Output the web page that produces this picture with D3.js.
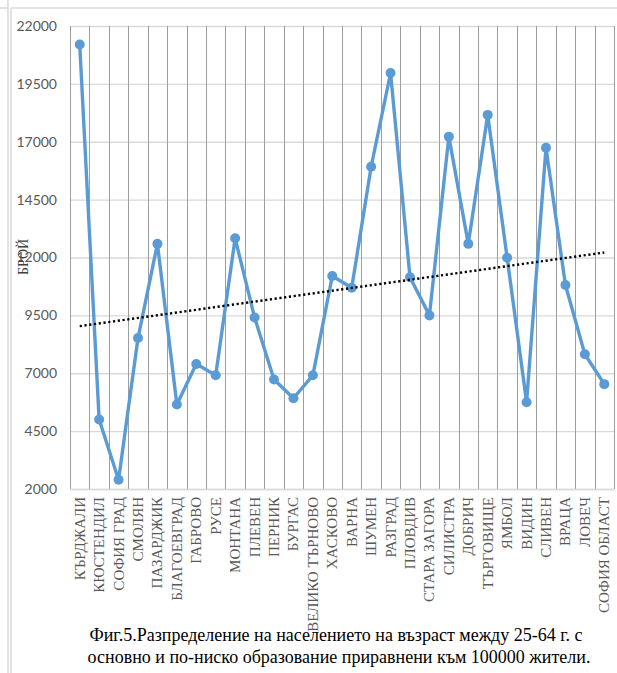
<!DOCTYPE html>
<html><head><meta charset="utf-8">
<script src="https://cdn.jsdelivr.net/npm/d3@7"></script>
<style>
html,body{margin:0;padding:0;background:#fff;}
svg{display:block;}
</style>
</head><body>
<svg id="c" width="617" height="673"></svg>
<script>
const categories = ["КЪРДЖАЛИ","КЮСТЕНДИЛ","СОФИЯ ГРАД","СМОЛЯН","ПАЗАРДЖИК","БЛАГОЕВГРАД","ГАБРОВО","РУСЕ","МОНТАНА","ПЛЕВЕН","ПЕРНИК","БУРГАС","ВЕЛИКО ТЪРНОВО","ХАСКОВО","ВАРНА","ШУМЕН","РАЗГРАД","ПЛОВДИВ","СТАРА ЗАГОРА","СИЛИСТРА","ДОБРИЧ","ТЪРГОВИЩЕ","ЯМБОЛ","ВИДИН","СЛИВЕН","ВРАЦА","ЛОВЕЧ","СОФИЯ ОБЛАСТ"];
const values = [21200,5000,2400,8520,12590,5650,7400,6910,12830,9410,6730,5920,6910,11200,10690,15920,19970,11150,9500,17220,12590,18160,11990,5750,16740,10810,7820,6530];
const yTicks = [2000,4500,7000,9500,12000,14500,17000,19500,22000];
const yLabel = "БРОЙ";
const captionLines = ["Фиг.5.Разпределение на населението на възраст между 25-64 г. с","основно и по-ниско образование приравнени към 100000 жители."];

const svg = d3.select("#c");
const L = 70, R = 614, T = 26, B = 489;

// frame
const frame = svg.append("g").attr("stroke","#d9d9d9").attr("stroke-width",1.5).attr("fill","none");
frame.append("line").attr("x1",8).attr("x2",8).attr("y1",0).attr("y2",673);
frame.append("line").attr("x1",11).attr("x2",11).attr("y1",8).attr("y2",673);
frame.append("line").attr("x1",0).attr("x2",8).attr("y1",8).attr("y2",8);
frame.append("line").attr("x1",11).attr("x2",617).attr("y1",8).attr("y2",8);

const x = d3.scaleBand().domain(categories).range([L,R]).padding(0);
const y = d3.scaleLinear().domain([2000,22000]).range([B,T]);

// horizontal gridlines + y labels
const yAxis = d3.axisLeft(y).tickValues(yTicks).tickSize(-(R-L)).tickPadding(13).tickFormat(d3.format("d"));
const gy = svg.append("g").attr("transform",`translate(${L},0)`).call(yAxis);
gy.select(".domain").remove();
gy.selectAll(".tick line").attr("stroke","#d9d9d9").attr("stroke-width",1.3);
gy.selectAll(".tick text").attr("fill","#595959").style("font-family","Lato, 'Open Sans', sans-serif").style("font-size","14px");

// vertical gridlines between categories
const vx = categories.map(c => x(c)).concat([x.range()[1]]);
svg.append("g").selectAll("line").data(vx).join("line")
  .attr("x1",d=>Math.round(d)+0.5).attr("x2",d=>Math.round(d)+0.5)
  .attr("y1",T).attr("y2",B)
  .attr("stroke","#9e9e9e").attr("stroke-width",1);

// bottom axis line
svg.append("line").attr("x1",L).attr("x2",R).attr("y1",B+0.5).attr("y2",B+0.5).attr("stroke","#d9d9d9").attr("stroke-width",1.3);

// x labels
const xAxis = d3.axisBottom(x).tickSize(0).tickPadding(0);
const gx = svg.append("g").attr("transform",`translate(0,${B})`).call(xAxis);
gx.select(".domain").remove();
gx.selectAll(".tick text")
  .attr("transform","rotate(-90)")
  .attr("x",-8).attr("y",0).attr("dy","0.33em")
  .attr("text-anchor","end")
  .attr("fill","#595959")
  .style("font-family","'Liberation Serif', 'Times New Roman', serif")
  .style("font-size","15px");

// y axis title
svg.append("text").attr("transform","translate(23,257) rotate(-90)")
  .attr("text-anchor","middle").attr("dy","0.35em")
  .attr("fill","#404040")
  .style("font-family","'Liberation Serif', serif").style("font-size","14px")
  .text(yLabel);

// series line
const cx = d => x(d) + x.bandwidth()/2;
const data = categories.map((c,i)=>({c, v: values[i]}));
svg.append("path").datum(data)
  .attr("fill","none").attr("stroke","#5b9bd5").attr("stroke-width",3.4).attr("stroke-linejoin","round")
  .attr("d", d3.line().x(d=>cx(d.c)).y(d=>y(d.v)));
svg.append("g").selectAll("circle").data(data).join("circle")
  .attr("cx",d=>cx(d.c)).attr("cy",d=>y(d.v)).attr("r",5).attr("fill","#5b9bd5");

// linear trendline (least squares)
const n = values.length;
const xs = d3.range(1,n+1);
const mx = d3.mean(xs), my = d3.mean(values);
const slope = d3.sum(xs.map((xi,i)=>(xi-mx)*(values[i]-my))) / d3.sum(xs.map(xi=>(xi-mx)*(xi-mx)));
const icpt = my - slope*mx;
svg.append("line")
  .attr("x1",cx(categories[0])).attr("y1",y(icpt+slope*1))
  .attr("x2",cx(categories[n-1])).attr("y2",y(icpt+slope*n))
  .attr("stroke","#000").attr("stroke-width",2.4).attr("stroke-dasharray","2.2,2.6");

// caption
svg.append("g").selectAll("text").data(captionLines).join("text")
  .attr("x",(d,i)=>i===0?336:339).attr("y",(d,i)=>641+i*22)
  .attr("text-anchor","middle").attr("fill","#000")
  .style("font-family","'Liberation Serif', 'Times New Roman', serif").style("font-size","18px")
  .text(d=>d);
</script>
</body></html>
